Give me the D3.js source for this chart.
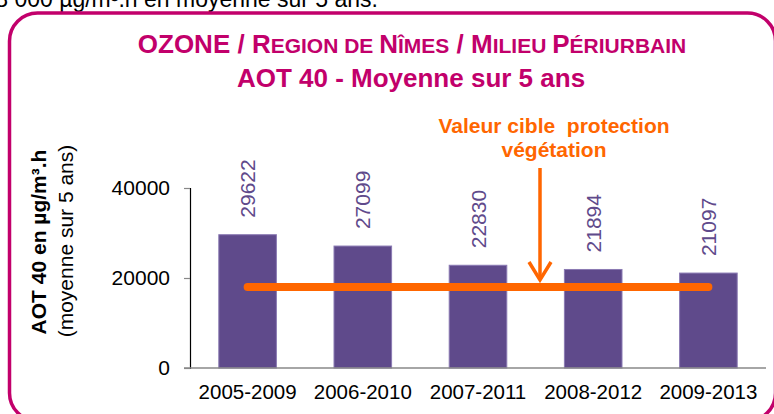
<!DOCTYPE html>
<html lang="fr">
<head>
  <meta charset="UTF-8">
  <title>AOT 40 - Nîmes</title>
  <style>
    body { margin: 0; background: #fff; }
    svg { display: block; font-family: 'Liberation Sans', Arial, sans-serif; }
  </style>
</head>
<body>
  <svg class="chart"></svg>
  <script src="https://cdn.jsdelivr.net/npm/d3@7"></script>
  <script>
    // data
    let periods = ['2005-2009', '2006-2010', '2007-2011', '2008-2012', '2009-2013']
    let aot40 = [29622, 27099, 22830, 21894, 21097]
    let yTicks = [0, 20000, 40000]
    let targetValue = 18000

    let width = 774, height = 414
    let magenta = '#c2006b', purple = '#5f4a8b', orange = '#ff6600'

    let svg = d3.select('svg')
      .attr('width', width)
      .attr('height', height)

    // text cut off at the top of the page
    svg.append('text')
      .attr('x', 378)
      .attr('y', 7)
      .attr('text-anchor', 'end')
      .attr('font-size', 23)
      .attr('fill', '#000')
      .text('18 000 µg/m³.h en moyenne sur 5 ans.')

    // rounded frame
    svg.append('rect')
      .attr('x', 9.5).attr('y', 13)
      .attr('width', 766).attr('height', 408)
      .attr('rx', 28).attr('ry', 28)
      .attr('fill', 'none')
      .attr('stroke', magenta)
      .attr('stroke-width', 3.5)

    // title
    let t1 = svg.append('text')
      .attr('x', 412).attr('y', 53)
      .attr('text-anchor', 'middle')
      .attr('font-weight', 'bold')
      .attr('fill', magenta)
    let parts = [['OZONE / R', 1], ['EGION DE ', 0], ['N', 1], ['ÎMES', 0], [' / M', 1], ['ILIEU ', 0], ['P', 1], ['ÉRIURBAIN', 0]]
    parts.forEach(p => {
      t1.append('tspan')
        .attr('font-size', p[1] ? 26 : 21)
        .style('white-space', 'pre')
        .text(p[0])
    })
    svg.append('text')
      .attr('x', 411).attr('y', 87)
      .attr('text-anchor', 'middle')
      .attr('font-weight', 'bold')
      .attr('font-size', 26)
      .attr('fill', magenta)
      .text('AOT 40 - Moyenne sur 5 ans')

    // scales
    let x = d3.scaleBand()
      .domain(periods)
      .range([190, 766])
      .paddingInner(0.5)
      .paddingOuter(0.25)

    let y = d3.scaleLinear()
      .domain([0, 40000])
      .range([368, 188])

    // y axis
    let yAxis = svg.append('g')
      .attr('transform', 'translate(190,0)')
      .call(d3.axisLeft(y).tickValues(yTicks).tickSize(6).tickPadding(14).tickFormat(d3.format('d')))
    yAxis.select('.domain').attr('stroke', '#000').attr('stroke-width', 1.2)
    yAxis.selectAll('.tick line').attr('stroke', '#888').attr('stroke-width', 1.2)
    yAxis.selectAll('.tick text')
      .attr('font-size', 21)
      .attr('font-family', 'Liberation Sans, Arial, sans-serif')
      .attr('fill', '#000')

    // y axis title
    svg.append('text')
      .attr('transform', 'translate(38,242) rotate(-90)')
      .attr('text-anchor', 'middle')
      .attr('dominant-baseline', 'central')
      .attr('font-weight', 'bold')
      .attr('font-size', 21)
      .text('AOT 40 en µg/m³.h')
    svg.append('text')
      .attr('transform', 'translate(65,241) rotate(-90)')
      .attr('text-anchor', 'middle')
      .attr('dominant-baseline', 'central')
      .attr('font-size', 21)
      .text('(moyenne sur 5 ans)')

    // bars
    svg.append('g')
      .selectAll('rect')
      .data(periods)
      .enter()
      .append('rect')
      .attr('x', d => x(d))
      .attr('y', (d, i) => y(aot40[i]))
      .attr('width', x.bandwidth())
      .attr('height', (d, i) => y(0) - y(aot40[i]))
      .attr('fill', purple)
      .attr('stroke', '#8a7ab3')
      .attr('stroke-width', 1)

    // value labels
    svg.append('g')
      .selectAll('text')
      .data(periods)
      .enter()
      .append('text')
      .attr('transform', (d, i) => `translate(${x(d) + x.bandwidth() / 2},${y(aot40[i]) - 17}) rotate(-90)`)
      .attr('dominant-baseline', 'central')
      .attr('font-size', 21)
      .attr('fill', purple)
      .text((d, i) => aot40[i])

    // x axis
    let xAxis = svg.append('g')
      .attr('transform', 'translate(0,' + y(0) + ')')
      .call(d3.axisBottom(x).tickSize(0).tickPadding(16))
    xAxis.select('.domain')
      .attr('d', 'M184,0H766')
      .attr('stroke', '#888')
      .attr('stroke-width', 1.5)
    xAxis.selectAll('.tick text')
      .attr('font-size', 20.5)
      .attr('font-family', 'Liberation Sans, Arial, sans-serif')
      .attr('fill', '#000')

    // target line
    svg.append('line')
      .attr('x1', x(periods[0]) + x.bandwidth() / 2)
      .attr('x2', x(periods[periods.length - 1]) + x.bandwidth() / 2)
      .attr('y1', y(targetValue))
      .attr('y2', y(targetValue))
      .attr('stroke', orange)
      .attr('stroke-width', 8)
      .attr('stroke-linecap', 'round')

    // annotation
    let ann = svg.append('text')
      .attr('text-anchor', 'middle')
      .attr('font-weight', 'bold')
      .attr('font-size', 21)
      .attr('fill', orange)
      .style('white-space', 'pre')
    ann.append('tspan').attr('x', 554).attr('y', 133).text('Valeur cible  protection')
    ann.append('tspan').attr('x', 554).attr('y', 157).text('végétation')

    let ax = 540, tipY = 280
    svg.append('line')
      .attr('x1', ax).attr('x2', ax)
      .attr('y1', 168).attr('y2', tipY - 1)
      .attr('stroke', orange)
      .attr('stroke-width', 3.5)
    svg.append('path')
      .attr('d', `M${ax - 11},${tipY - 18}L${ax},${tipY}L${ax + 11},${tipY - 18}`)
      .attr('fill', 'none')
      .attr('stroke', orange)
      .attr('stroke-width', 3.5)
  </script>
</body>
</html>
